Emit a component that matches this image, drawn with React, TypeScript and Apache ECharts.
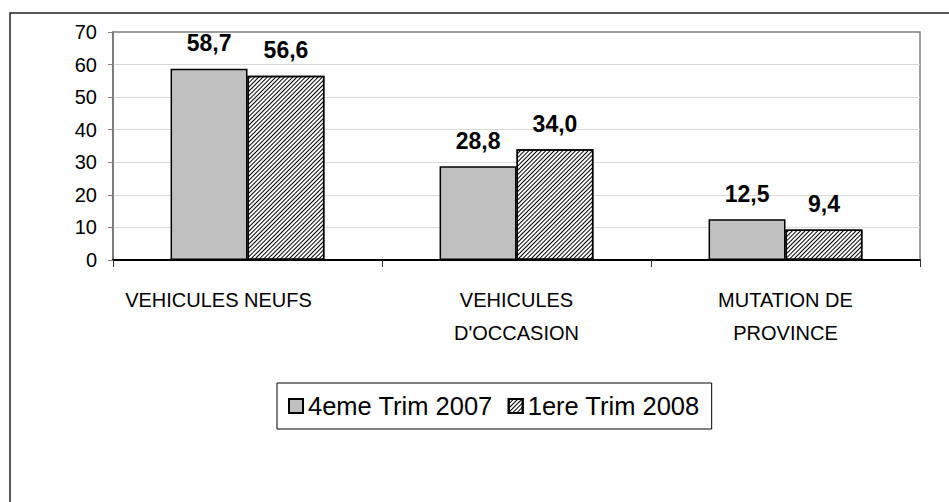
import React, { useEffect, useRef } from "react";
import * as echarts from "echarts";

const categories = ["VEHICULES NEUFS", "VEHICULES\nD'OCCASION", "MUTATION DE\nPROVINCE"];
const seriesNames = ["4eme Trim 2007", "1ere Trim 2008"];
const q4_2007 = [58.7, 28.8, 12.5];
const q1_2008 = [56.6, 34.0, 9.4];
const yMin = 0;
const yMax = 70;
const yInterval = 10;

const FONT = "'Liberation Sans', Arial, sans-serif";

export default function App() {
  const ref = useRef<HTMLDivElement>(null);
  useEffect(() => {
    document.body.style.margin = "0";
    const chart = echarts.init(ref.current!, null, { renderer: "svg" });
    const fmt = (p: any) => Number(p.value).toFixed(1).replace(".", ",");
    const labelCfg = {
      show: true,
      position: "top",
      distance: 14,
      fontSize: 23,
      fontWeight: "bold",
      color: "#000",
      fontFamily: FONT,
      formatter: fmt,
    };
    const catData = categories.map((c, i) =>
      i === 0 ? { value: c, textStyle: { padding: [0, 58, 0, 0] } } : c
    );
    chart.setOption({
      animation: false,
      backgroundColor: "#fff",
      textStyle: { fontFamily: FONT },
      graphic: [
        {
          type: "rect",
          shape: { x: 10, y: 13, width: 1000, height: 600 },
          style: { fill: "none", stroke: "#222", lineWidth: 1.5 },
          z: -1,
          silent: true,
        },
      ],
      grid: {
        left: 113,
        right: 29,
        top: 32,
        bottom: 242,
        show: true,
        borderColor: "#808080",
        borderWidth: 1.5,
        containLabel: false,
      },
      legend: {
        left: 277,
        top: 383,
        orient: "horizontal",
        icon: "rect",
        itemWidth: 14,
        itemHeight: 14,
        itemGap: 15,
        padding: [10, 12, 10, 11],
        borderColor: "#000",
        borderWidth: 1,
        textStyle: { fontSize: 25.5, color: "#000", fontFamily: FONT },
        data: seriesNames,
      },
      xAxis: {
        type: "category",
        data: catData,
        axisLine: { lineStyle: { color: "#000", width: 2 } },
        axisTick: { show: true, length: 7, lineStyle: { color: "#333" } },
        axisLabel: {
          interval: 0,
          fontSize: 20,
          lineHeight: 33,
          margin: 23,
          color: "#000",
          fontFamily: FONT,
        },
      },
      yAxis: {
        type: "value",
        min: yMin,
        max: yMax,
        interval: yInterval,
        axisLine: { show: true, lineStyle: { color: "#707070", width: 1.5 } },
        axisTick: { show: true, length: 5, lineStyle: { color: "#808080" } },
        splitLine: { show: true, showMaxLine: false, lineStyle: { color: "#d9d9d9", width: 1 } },
        axisLabel: { fontSize: 20, margin: 16, color: "#000", fontFamily: FONT },
      },
      series: [
        {
          name: seriesNames[0],
          type: "bar",
          data: q4_2007,
          barGap: "0%",
          barCategoryGap: "42.8%",
          itemStyle: { color: "#C0C0C0", borderColor: "#000", borderWidth: 1.5 },
          label: labelCfg,
        },
        {
          name: seriesNames[1],
          type: "bar",
          data: q1_2008,
          barGap: "0%",
          barCategoryGap: "42.8%",
          itemStyle: {
            color: "#fff",
            borderColor: "#000",
            borderWidth: 1.5,
            decal: {
              symbol: "rect",
              symbolSize: 1,
              dashArrayX: [1, 0],
              dashArrayY: [1, 2],
              rotation: -Math.PI / 4,
              color: "#000",
            },
          },
          label: labelCfg,
        },
      ],
    });
    return () => chart.dispose();
  }, []);
  return (
    <div
      ref={ref}
      style={{ position: "absolute", left: 0, top: 0, width: 949, height: 502 }}
    />
  );
}
